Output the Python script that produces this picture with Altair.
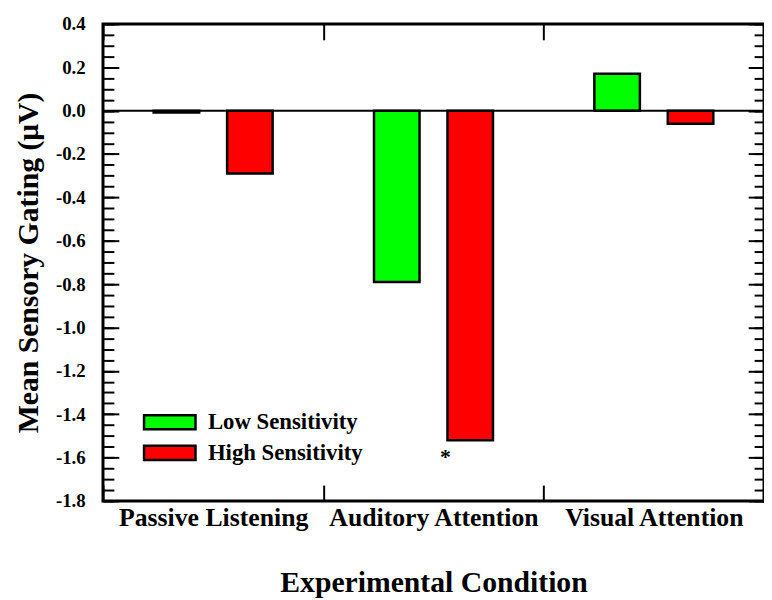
import altair as alt
import pandas as pd

conditions = ["Passive Listening", "Auditory Attention", "Visual Attention"]
groups = ["Low Sensitivity", "High Sensitivity"]
low_values = [-0.008, -0.79, 0.17]
high_values = [-0.29, -1.52, -0.06]
major_ticks = [-1.8, -1.6, -1.4, -1.2, -1.0, -0.8, -0.6, -0.4, -0.2, 0.0, 0.2, 0.4]
minor_ticks = [round(-1.8 + 0.05 * i, 2) for i in range(45)]
star_condition = ["Auditory Attention"]
star_value = [-1.6]

rows = []
for c, lo, hi in zip(conditions, low_values, high_values):
    rows.append({"Condition": c, "Group": groups[0], "Value": lo})
    rows.append({"Condition": c, "Group": groups[1], "Value": hi})
df = pd.DataFrame(rows)
star_df = pd.DataFrame({"Condition": star_condition, "Value": star_value, "Label": ["*"]})
zero_df = pd.DataFrame({"Value": [0.0]})

FONT = "Liberation Serif"
yscale = alt.Scale(domain=[-1.8, 0.4], nice=False, zero=False)
xscale = alt.Scale(paddingInner=0, paddingOuter=0)
label_expr = "replace(format(datum.value, '.1f'), '\u2212', '-')"

xaxis_bottom = alt.Axis(
    title="Experimental Condition", orient="bottom", tickBand="extent",
    offset=-16, tickSize=16, tickWidth=2, tickColor="black", domain=False,
    labelAngle=0, labelFont=FONT, labelFontSize=26, labelFontWeight="bold",
    labelColor="black", labelPadding=4, titleFont=FONT, titleFontSize=30,
    titleFontWeight="bold", titleColor="black", titlePadding=38,
)

bars = alt.Chart(df).mark_bar(stroke="black", strokeWidth=2.5).encode(
    x=alt.X("Condition:N", sort=conditions, axis=xaxis_bottom, scale=xscale),
    xOffset=alt.XOffset("Group:N", sort=groups,
                        scale=alt.Scale(domain=groups, paddingInner=0.38, paddingOuter=0.69)),
    y=alt.Y("Value:Q", scale=yscale, axis=alt.Axis(
        title="Mean Sensory Gating (\u03bcV)", orient="left", values=major_ticks,
        labelExpr=label_expr, offset=-16, tickSize=16, tickWidth=2, tickColor="black",
        domain=False, grid=False, labelFont=FONT, labelFontSize=19, labelFontWeight="bold",
        labelColor="black", labelPadding=18, titleFont=FONT, titleFontSize=30,
        titleFontWeight="bold", titleColor="black", titlePadding=12)),
    color=alt.Color("Group:N", sort=groups, scale=alt.Scale(domain=groups, range=["#00ff00", "#ff0000"]),
                    legend=alt.Legend(
                        title=None, orient="none", legendX=53, legendY=388, padding=0,
                        symbolType="M-2,-0.55L2,-0.55L2,0.55L-2,0.55Z", symbolSize=676,
                        symbolStrokeColor="black", symbolStrokeWidth=2.5, symbolOpacity=1,
                        labelFont=FONT, labelFontSize=23, labelFontWeight="bold", labelColor="black",
                        labelOffset=24, rowPadding=4)),
)

top_axis = alt.Chart(df).mark_tick(opacity=0).encode(
    x=alt.X("Condition:N", sort=conditions, scale=xscale,
            axis=alt.Axis(orient="top", tickBand="extent", offset=-16, tickSize=16, tickWidth=2,
                          tickColor="black", domain=False, labels=False, title=None)),
)

def yaxis_layer(orient, size, values):
    return alt.Chart(zero_df).mark_rule(opacity=0).encode(
        y=alt.Y("Value:Q", scale=yscale, axis=alt.Axis(
            orient=orient, values=values, offset=-size, tickSize=size, tickWidth=2,
            tickColor="black", domain=False, grid=False, labels=False, title=None)),
    )

zero_line = alt.Chart(zero_df).mark_rule(color="black", strokeWidth=2).encode(
    y=alt.Y("Value:Q", scale=yscale, axis=None),
)

star = alt.Chart(star_df).mark_text(font=FONT, fontSize=22, fontWeight="bold", color="black", dx=12).encode(
    x=alt.X("Condition:N", sort=conditions, scale=xscale, axis=None),
    y=alt.Y("Value:Q", scale=yscale, axis=None),
    text="Label:N",
)

chart = alt.layer(
    bars, zero_line, star, top_axis,
    yaxis_layer("left", 11, minor_ticks),
    yaxis_layer("right", 16, major_ticks),
    yaxis_layer("right", 10, minor_ticks),
).resolve_axis(y="independent", x="independent").resolve_scale(y="shared", x="shared").properties(
    width=668, height=482,
    autosize=alt.AutoSizeParams(type="none"),
    padding={"left": 96, "top": 13, "right": 0, "bottom": 97},
).configure_view(stroke="black", strokeWidth=3).configure_axis(labelLimit=400)

chart.save("out.html", embed_options={"renderer": "svg", "actions": False})
